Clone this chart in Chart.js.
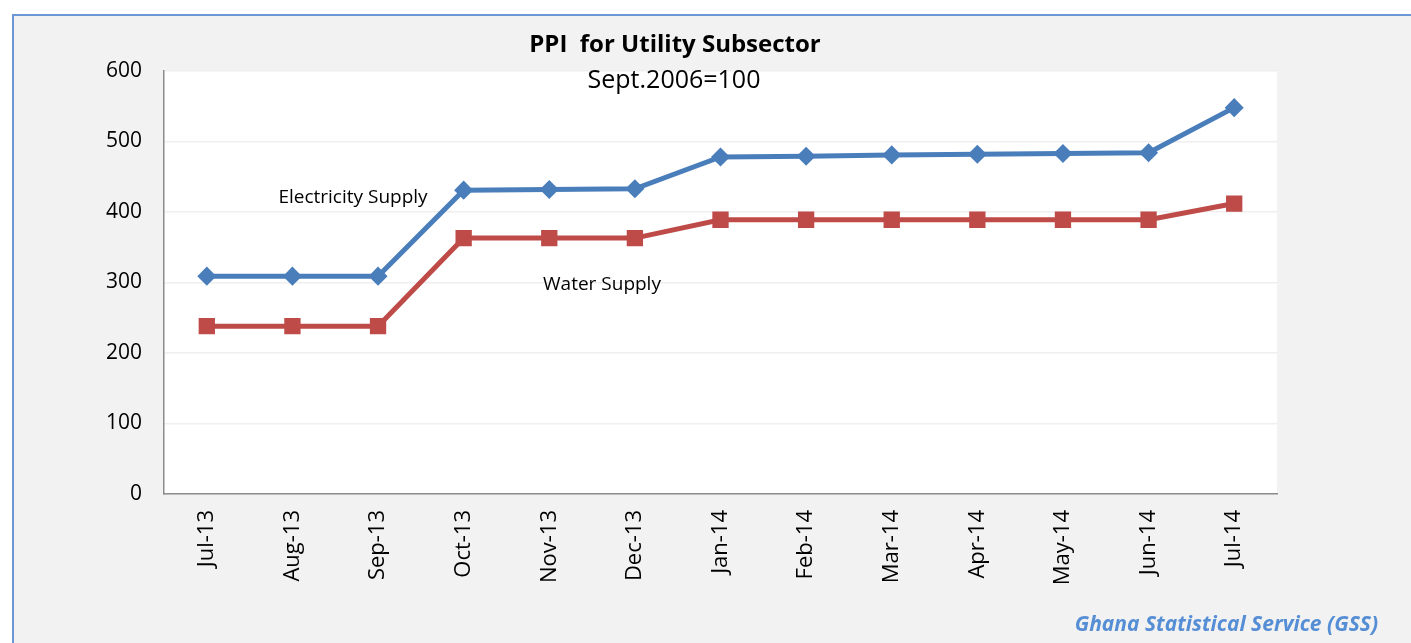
<!doctype html>
<html lang="en">
<head>
<meta charset="utf-8">
<title>PPI for Utility Subsector</title>
<script src="https://cdn.jsdelivr.net/npm/chart.js@4"></script>
<style>
  html, body { margin: 0; padding: 0; background: #fff; }
  body { width: 1411px; height: 643px; position: relative; overflow: hidden; font-family: 'Open Sans', sans-serif; }
  .frame { position: absolute; left: 12px; top: 14px; width: 1420px; height: 660px; background: #f2f2f2; border-left: 2px solid #6a98d4; border-top: 2px solid #6a98d4; }
  #wrap { position: absolute; left: 0; top: 0; width: 1411px; height: 643px; }
</style>
</head>
<body>
<div class="frame"></div>
<div id="wrap"><canvas id="c" width="1411" height="643"></canvas></div>
<script>
// Данные с картинки (PPI, Sept.2006=100)
const months = ['Jul-13', 'Aug-13', 'Sep-13', 'Oct-13', 'Nov-13', 'Dec-13', 'Jan-14', 'Feb-14', 'Mar-14', 'Apr-14', 'May-14', 'Jun-14', 'Jul-14'];
const electricity = [309, 309, 309, 431, 432, 433, 478, 479, 481, 482, 483, 484, 548];
const water = [238, 238, 238, 363, 363, 363, 389, 389, 389, 389, 389, 389, 412];
const yTicks = [0, 100, 200, 300, 400, 500, 600];

const FONT = "'Open Sans', sans-serif";

// белая подложка области графика + подписи
const decor = {
  id: 'decor',
  beforeDraw(chart) {
    const { ctx, chartArea: a } = chart;
    ctx.save();
    ctx.fillStyle = '#ffffff';
    ctx.fillRect(a.left, a.top, a.right - a.left, a.bottom - a.top);
    ctx.restore();
  },
  afterDraw(chart) {
    const { ctx } = chart;
    ctx.save();
    ctx.textAlign = 'center';
    ctx.textBaseline = 'middle';
    ctx.fillStyle = '#000';
    ctx.font = 'bold 24px ' + FONT;
    ctx.fillText('PPI  for Utility Subsector', 675, 45);
    ctx.font = '25px ' + FONT;
    ctx.fillText('Sept.2006=100', 674, 81);
    ctx.font = '19px ' + FONT;
    ctx.fillText('Electricity Supply', 353, 198);
    ctx.fillText('Water Supply', 602, 285);
    ctx.textAlign = 'right';
    ctx.fillStyle = '#558ed5';
    ctx.font = 'italic bold 21px ' + FONT;
    ctx.fillText('Ghana Statistical Service (GSS)', 1378, 625);
    ctx.restore();
  },
};

new Chart(document.getElementById('c'), {
  type: 'line',
  data: {
    labels: months,
    datasets: [
      { label: 'Electricity Supply', data: electricity, borderColor: '#4a7ebb', backgroundColor: '#4a7ebb',
        borderWidth: 5, pointStyle: 'rectRot', pointRadius: 6, tension: 0 },
      { label: 'Water Supply', data: water, borderColor: '#be4b48', backgroundColor: '#be4b48',
        borderWidth: 5, pointStyle: 'rect', pointRadius: 8, tension: 0 },
    ],
  },
  options: {
    responsive: false,
    animation: false,
    layout: { padding: { left: 0, top: 71, right: 134, bottom: 0 } },
    plugins: { legend: { display: false }, tooltip: { enabled: false } },
    scales: {
      x: {
        offset: true,
        grid: { display: false, drawTicks: false },
        border: { color: '#8c8c8c', width: 1.5 },
        ticks: { color: '#000', font: { family: FONT, size: 22 }, minRotation: 90, maxRotation: 90, padding: 16, autoSkip: false },
        afterFit(s) { s.height = 149; },
      },
      y: {
        min: 0, max: 600,
        afterBuildTicks(s) { s.ticks = yTicks.map(v => ({ value: v })); },
        grid: { color: '#efefef', lineWidth: 1.5, drawTicks: false },
        border: { color: '#8c8c8c', width: 1.5 },
        ticks: { color: '#000', font: { family: FONT, size: 21 }, padding: 22 },
        afterFit(s) { s.width = 164; },
      },
    },
  },
  plugins: [decor],
});
</script>
</body>
</html>
